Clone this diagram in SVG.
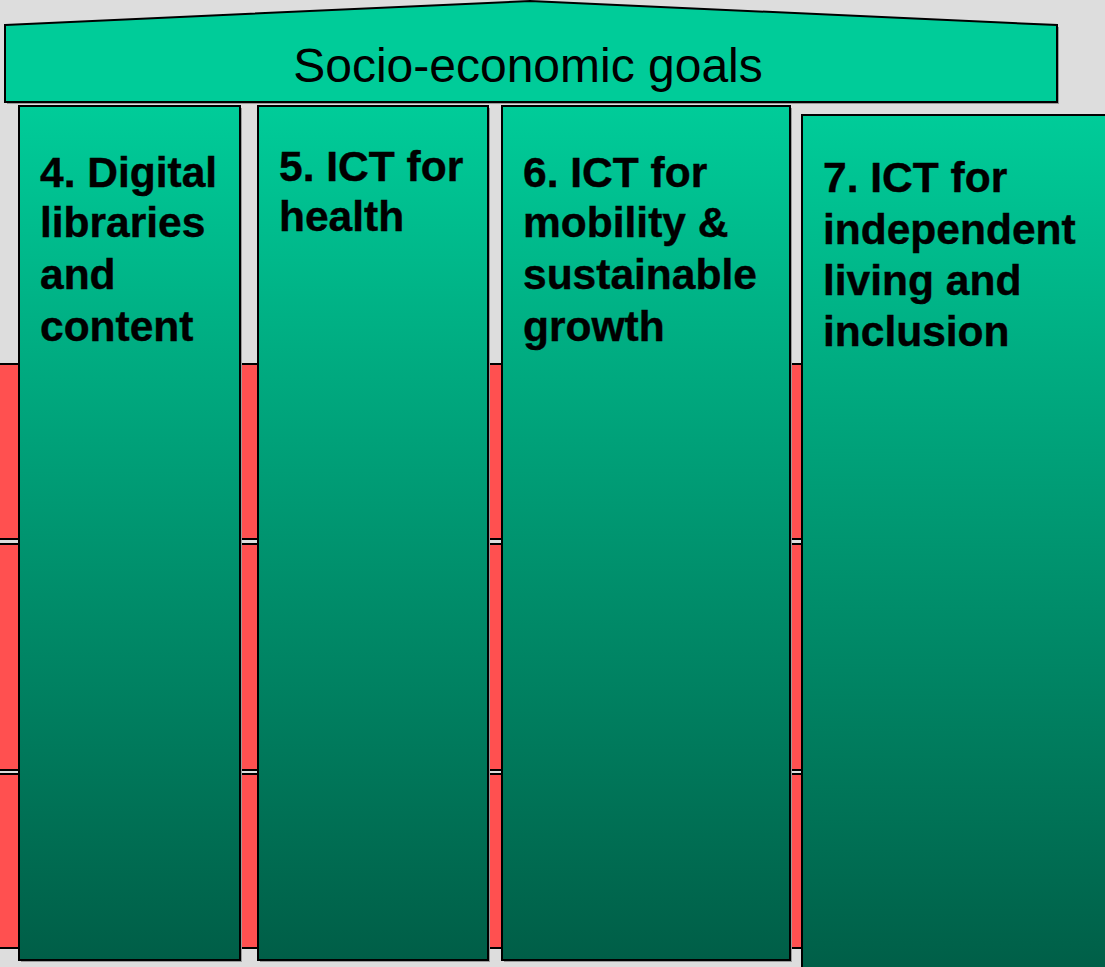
<svg xmlns="http://www.w3.org/2000/svg" width="1105" height="967" viewBox="0 0 1105 967">
<defs>
<linearGradient id="colg" x1="0" y1="0" x2="0" y2="1">
<stop offset="0" stop-color="#00CC99"/>
<stop offset="1" stop-color="#005E47"/>
</linearGradient>
<style>
.band{fill:#FF5050;stroke:#000;stroke-width:2}
.col{fill:url(#colg);stroke:#000;stroke-width:2}
.sh{fill:#999}
.lbl{font-family:"Liberation Sans",Arial,sans-serif;font-weight:bold;font-size:42.5px;fill:#000;stroke:#000;stroke-width:0.4}
.roof{fill:#00CC99;stroke:#000;stroke-width:2}
</style>
</defs>
<rect width="1105" height="967" fill="#DDDDDD"/>
<g id="bands">
<rect class="band" x="-2" y="364" width="806" height="175"/>
<rect class="band" x="-2" y="544" width="806" height="226"/>
<rect class="band" x="-2" y="774" width="806" height="174"/>
</g>
<g id="roof">
<polygon class="sh" points="7,27 532,3 1059,27 1059,104 7,104"/>
<polygon class="roof" points="5,25 530,1 1057,25 1057,102 5,102"/>
<text x="528" y="82" text-anchor="middle" font-family="'Liberation Sans',Arial,sans-serif" font-size="48" fill="#000">Socio-economic goals</text>
</g>
<g id="col4">
<rect class="sh" x="21" y="108" width="221" height="854"/>
<rect class="col" x="19" y="106" width="221" height="854"/>
<text class="lbl" x="40" y="187">4. Digital</text>
<text class="lbl" x="40" y="237">libraries</text>
<text class="lbl" x="40" y="289">and</text>
<text class="lbl" x="40" y="341">content</text>
</g>
<g id="col5">
<rect class="sh" x="260" y="108" width="230" height="854"/>
<rect class="col" x="258" y="106" width="230" height="854"/>
<text class="lbl" x="279" y="181">5. ICT for</text>
<text class="lbl" x="279" y="231">health</text>
</g>
<g id="col6">
<rect class="sh" x="504" y="108" width="288" height="854"/>
<rect class="col" x="502" y="106" width="288" height="854"/>
<text class="lbl" x="523" y="187">6. ICT for</text>
<text class="lbl" x="523" y="237">mobility &amp;</text>
<text class="lbl" x="523" y="289">sustainable</text>
<text class="lbl" x="523" y="341">growth</text>
</g>
<g id="col7">
<rect class="sh" x="804" y="117" width="310" height="860"/>
<rect class="col" x="802" y="115" width="310" height="860"/>
<text class="lbl" x="823" y="192">7. ICT for</text>
<text class="lbl" x="823" y="244">independent</text>
<text class="lbl" x="823" y="295">living and</text>
<text class="lbl" x="823" y="346">inclusion</text>
</g>
</svg>
